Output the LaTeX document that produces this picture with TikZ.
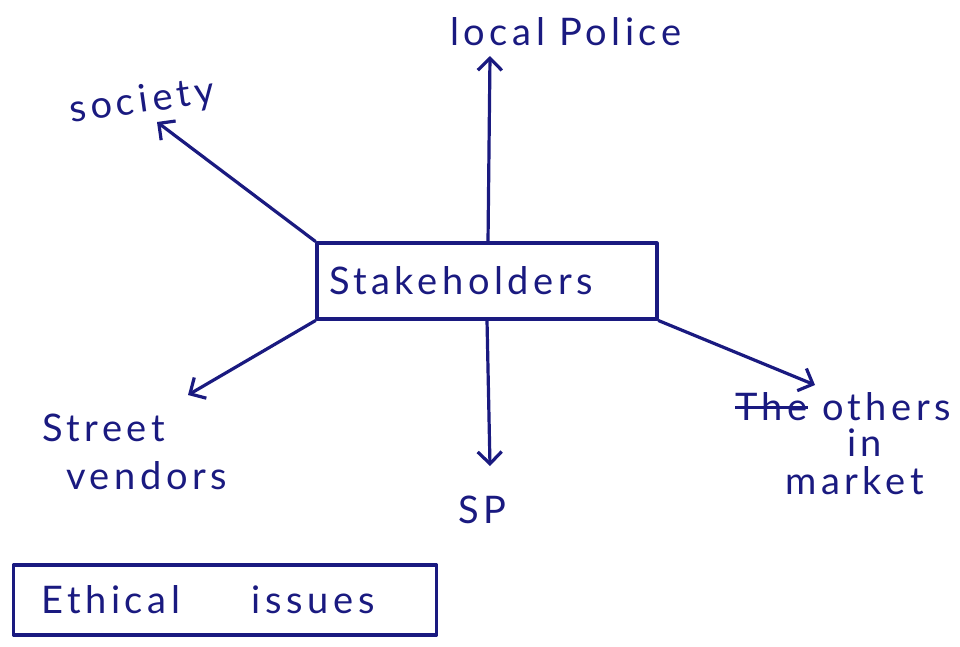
\documentclass[tikz,border=0pt]{standalone}
\usepackage{fontspec}
\setmainfont{Lato}[LetterSpace=12]
\usetikzlibrary{arrows.meta}
\definecolor{ink}{HTML}{1A1A80}
\newcommand\mystrike[1]{\setbox0=\hbox{#1}\rlap{\rule[0.3em]{\wd0}{2.6pt}}\box0\relax}
\tikzset{
  ink/.style={draw=ink, line width=3.2pt, line cap=round, line join=round},
  conn/.style={ink, -{Straight Barb[length=12pt, width=24pt, line width=3.2pt]}},
  lbl/.style={text=ink, font=\fontsize{38}{44}\selectfont, inner sep=0pt, align=left},
  boxnode/.style={ink, text=ink, font=\fontsize{38}{44}\selectfont, align=left}
}
\begin{document}
\begin{tikzpicture}[x=1pt, y=-1pt]
\useasboundingbox[fill=white] (0,0) rectangle (960,646);
% central box
\node[boxnode, minimum height=76pt, text width=316pt, inner xsep=12pt] (sh) at (487,281) {Stakeholders};
% labels
\node[lbl, rotate=8] (soc) at (142,102) {society};
\node[lbl, anchor=west] (pol) at (450,32) {local Police};
\node[lbl, anchor=north west] (sv) at (42,414) {Street\\[4pt]\hspace{24pt}vendors};
\node[lbl] (sp) at (482,510) {SP};
\node[lbl, anchor=north west] (oth) at (735,392) {\mystrike{The} others\\[-8pt]\hspace{112pt}in\\[-6pt]\hspace{50pt}market};
% arrow tips
\coordinate (socTip) at (157,122);
\coordinate (polTip) at (490,56);
\coordinate (svTip) at (188,395);
\coordinate (spTip) at (490,466);
\coordinate (othTip) at (815,385);
% connectors
\draw[conn] (sh.north west) -- (socTip);
\draw[conn] (488,242) -- (polTip);
\draw[conn] (sh.south west) -- (svTip);
\draw[conn] (487,320) -- (spTip);
\draw[conn] (sh.south east) -- (othTip);
% ethical issues box
\node[boxnode, minimum height=70pt, text width=367pt, inner xsep=28pt] (eth) at (225,600) {Ethical\hspace{72pt}issues};
\end{tikzpicture}
\end{document}
